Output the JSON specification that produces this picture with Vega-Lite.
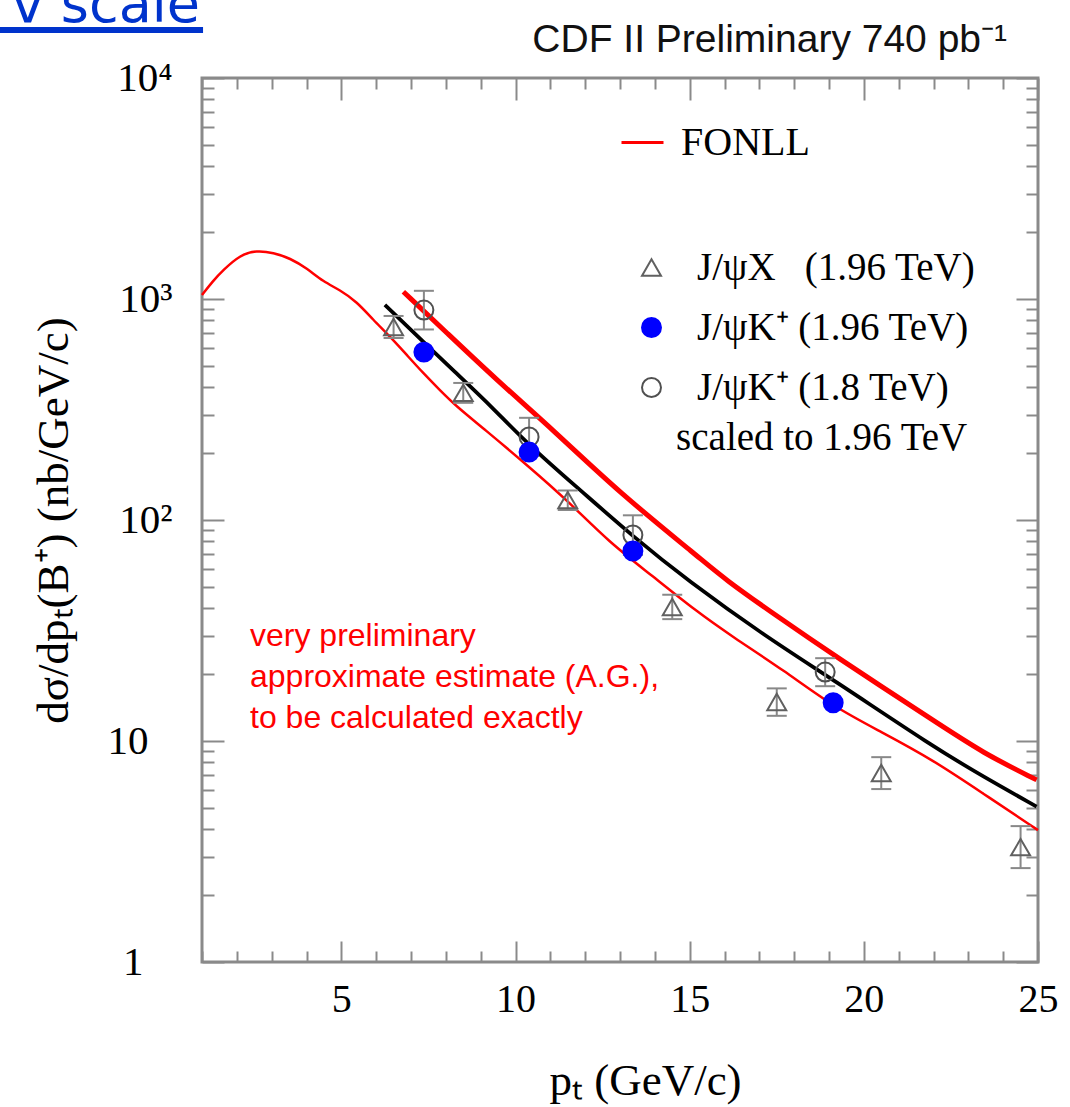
{
  "$schema": "https://vega.github.io/schema/vega-lite/v6.json",
  "width": 836,
  "height": 884,
  "autosize": {"type": "none"},
  "padding": {"left": 202, "top": 78, "right": 32, "bottom": 145},
  "background": "white",
  "config": {"view": {"stroke": "#8a8a8a", "strokeWidth": 3}},
  "datasets": {
    "curves": [
      {"model": "FONLL", "curve": "lower", "pt": 1.0, "xs": 1042},
      {"model": "FONLL", "curve": "lower", "pt": 1.3, "xs": 1200},
      {"model": "FONLL", "curve": "lower", "pt": 1.61, "xs": 1352},
      {"model": "FONLL", "curve": "lower", "pt": 2.09, "xs": 1581},
      {"model": "FONLL", "curve": "lower", "pt": 2.57, "xs": 1660},
      {"model": "FONLL", "curve": "lower", "pt": 3.05, "xs": 1620},
      {"model": "FONLL", "curve": "lower", "pt": 3.53, "xs": 1529},
      {"model": "FONLL", "curve": "lower", "pt": 4.01, "xs": 1377},
      {"model": "FONLL", "curve": "lower", "pt": 4.48, "xs": 1198},
      {"model": "FONLL", "curve": "lower", "pt": 4.96, "xs": 1099},
      {"model": "FONLL", "curve": "lower", "pt": 5.44, "xs": 973},
      {"model": "FONLL", "curve": "lower", "pt": 5.92, "xs": 803},
      {"model": "FONLL", "curve": "lower", "pt": 6.4, "xs": 676},
      {"model": "FONLL", "curve": "lower", "pt": 6.88, "xs": 558},
      {"model": "FONLL", "curve": "lower", "pt": 7.35, "xs": 462},
      {"model": "FONLL", "curve": "lower", "pt": 7.83, "xs": 387},
      {"model": "FONLL", "curve": "lower", "pt": 8.31, "xs": 326},
      {"model": "FONLL", "curve": "lower", "pt": 9.08, "xs": 260},
      {"model": "FONLL", "curve": "lower", "pt": 10.39, "xs": 174},
      {"model": "FONLL", "curve": "lower", "pt": 11.48, "xs": 123},
      {"model": "FONLL", "curve": "lower", "pt": 12.7, "xs": 79},
      {"model": "FONLL", "curve": "lower", "pt": 13.86, "xs": 57},
      {"model": "FONLL", "curve": "lower", "pt": 15.2, "xs": 38.5},
      {"model": "FONLL", "curve": "lower", "pt": 16.25, "xs": 29.5},
      {"model": "FONLL", "curve": "lower", "pt": 17.7, "xs": 20.9},
      {"model": "FONLL", "curve": "lower", "pt": 19.12, "xs": 14.3},
      {"model": "FONLL", "curve": "lower", "pt": 20.5, "xs": 11.0},
      {"model": "FONLL", "curve": "lower", "pt": 21.99, "xs": 8.2},
      {"model": "FONLL", "curve": "lower", "pt": 23.4, "xs": 5.82},
      {"model": "FONLL", "curve": "lower", "pt": 25.0, "xs": 3.95},
      {"model": "FONLL", "curve": "upper", "pt": 6.78, "xs": 1079},
      {"model": "FONLL", "curve": "upper", "pt": 8.0, "xs": 710},
      {"model": "FONLL", "curve": "upper", "pt": 9.46, "xs": 430},
      {"model": "FONLL", "curve": "upper", "pt": 11.09, "xs": 255},
      {"model": "FONLL", "curve": "upper", "pt": 13.0, "xs": 132},
      {"model": "FONLL", "curve": "upper", "pt": 15.3, "xs": 67.2},
      {"model": "FONLL", "curve": "upper", "pt": 15.97, "xs": 54.5},
      {"model": "FONLL", "curve": "upper", "pt": 17.55, "xs": 36.3},
      {"model": "FONLL", "curve": "upper", "pt": 19.13, "xs": 24.5},
      {"model": "FONLL", "curve": "upper", "pt": 21.99, "xs": 12.4},
      {"model": "FONLL", "curve": "upper", "pt": 23.43, "xs": 8.8},
      {"model": "FONLL", "curve": "upper", "pt": 24.96, "xs": 6.67},
      {"model": "estimate", "curve": "central", "pt": 6.25, "xs": 940},
      {"model": "estimate", "curve": "central", "pt": 8.5, "xs": 430},
      {"model": "estimate", "curve": "central", "pt": 9.27, "xs": 331},
      {"model": "estimate", "curve": "central", "pt": 10.42, "xs": 215},
      {"model": "estimate", "curve": "central", "pt": 11.85, "xs": 137},
      {"model": "estimate", "curve": "central", "pt": 13.38, "xs": 84},
      {"model": "estimate", "curve": "central", "pt": 14.92, "xs": 53.6},
      {"model": "estimate", "curve": "central", "pt": 17.21, "xs": 29.5},
      {"model": "estimate", "curve": "central", "pt": 19.13, "xs": 18.9},
      {"model": "estimate", "curve": "central", "pt": 21.99, "xs": 9.42},
      {"model": "estimate", "curve": "central", "pt": 23.43, "xs": 6.9},
      {"model": "estimate", "curve": "central", "pt": 24.96, "xs": 5.05}
    ],
    "points": [
      {"series": "J/ψX\u00a0\u00a0\u00a0(1.96 TeV)", "pt": 6.5, "xs": 747, "lo": 666, "hi": 838},
      {"series": "J/ψX\u00a0\u00a0\u00a0(1.96 TeV)", "pt": 8.5, "xs": 376, "lo": 339, "hi": 417},
      {"series": "J/ψX\u00a0\u00a0\u00a0(1.96 TeV)", "pt": 11.5, "xs": 123, "lo": 111, "hi": 136},
      {"series": "J/ψX\u00a0\u00a0\u00a0(1.96 TeV)", "pt": 14.5, "xs": 40.4, "lo": 35.6, "hi": 45.9},
      {"series": "J/ψX\u00a0\u00a0\u00a0(1.96 TeV)", "pt": 17.5, "xs": 15.0, "lo": 13.0, "hi": 17.3},
      {"series": "J/ψX\u00a0\u00a0\u00a0(1.96 TeV)", "pt": 20.5, "xs": 7.16, "lo": 6.06, "hi": 8.45},
      {"series": "J/ψX\u00a0\u00a0\u00a0(1.96 TeV)", "pt": 24.5, "xs": 3.31, "lo": 2.66, "hi": 4.12},
      {"series": "J/ψK⁺ (1.8 TeV)", "pt": 7.37, "xs": 891, "lo": 728, "hi": 1089},
      {"series": "J/ψK⁺ (1.8 TeV)", "pt": 10.39, "xs": 237.6, "lo": 195, "hi": 290},
      {"series": "J/ψK⁺ (1.8 TeV)", "pt": 13.37, "xs": 85.5, "lo": 69.5, "hi": 105},
      {"series": "J/ψK⁺ (1.8 TeV)", "pt": 18.89, "xs": 20.5, "lo": 17.7, "hi": 23.7},
      {"series": "J/ψK⁺ (1.96 TeV)", "pt": 7.37, "xs": 575},
      {"series": "J/ψK⁺ (1.96 TeV)", "pt": 10.39, "xs": 203},
      {"series": "J/ψK⁺ (1.96 TeV)", "pt": 13.37, "xs": 72.4},
      {"series": "J/ψK⁺ (1.96 TeV)", "pt": 19.12, "xs": 14.9}
    ]
  },
  "layer": [
    {
      "data": {"name": "curves"},
      "mark": {"type": "line", "interpolate": "basis"},
      "encoding": {
        "x": {"field": "pt", "type": "quantitative", "scale": {"domain": [1, 25], "nice": false, "zero": false},
          "axis": {"orient": "bottom", "values": [1,2,3,4,5,6,7,8,9,10,11,12,13,14,15,16,17,18,19,20,21,22,23,24,25],
            "labelExpr": "datum.value % 5 == 0 ? datum.label : ''",
            "tickSize": {"condition": {"test": "datum.value % 5 == 0", "value": -21}, "value": -11},
            "tickColor": "#8a8a8a", "tickWidth": 2, "domain": false, "grid": false,
            "labelFont": "Liberation Serif", "labelFontSize": 40, "labelColor": "#000000", "labelPadding": 38, "labelBaseline": "top",
            "labelFlush": false, "labelOverlap": false,
            "title": "pₜ (GeV/c)", "titleFont": "Liberation Serif", "titleFontSize": 45, "titleFontWeight": "normal", "titleColor": "#000000",
            "titleX": 443, "titleY": 132, "titleBaseline": "alphabetic", "titleAlign": "center"}},
        "y": {"field": "xs", "type": "quantitative", "scale": {"type": "log", "domain": [1, 10000], "nice": false},
          "axis": {"orient": "left", "values": [1,2,3,4,5,6,7,8,9,10,20,30,40,50,60,70,80,90,100,200,300,400,500,600,700,800,900,1000,2000,3000,4000,5000,6000,7000,8000,9000,10000],
            "labelExpr": "datum.value == 10000 ? '10⁴' : datum.value == 1000 ? '10³' : datum.value == 100 ? '10²' : datum.value == 10 ? '10' : datum.value == 1 ? '1' : ''",
            "tickSize": {"condition": {"test": "datum.value == 1 || datum.value == 10 || datum.value == 100 || datum.value == 1000 || datum.value == 10000", "value": -22}, "value": -12},
            "tickColor": "#8a8a8a", "tickWidth": 2, "domain": false, "grid": false,
            "labelFont": "Liberation Serif", "labelFontSize": 41, "labelColor": "#000000", "labelAlign": "right", "labelBaseline": "middle",
            "labelPadding": {"condition": [{"test": "datum.value == 1", "value": 81}, {"test": "datum.value >= 100", "value": 52}], "value": 76},
            "labelFlush": false, "labelOverlap": false,
            "title": "dσ/dpₜ(B⁺) (nb/GeV/c)", "titleFont": "Liberation Serif", "titleFontSize": 45, "titleFontWeight": "normal", "titleColor": "#000000",
            "titleX": -135, "titleY": 442, "titleAngle": 270, "titleBaseline": "alphabetic", "titleAlign": "center"}},
        "color": {"field": "model", "type": "nominal", "scale": {"domain": ["FONLL", "estimate"], "range": ["#ff0000", "#000000"]},
          "legend": {"values": ["FONLL"], "orient": "none", "legendX": 418, "legendY": 42, "title": null, "symbolType": "stroke",
            "symbolSize": 1764, "symbolStrokeWidth": 3, "labelFont": "Liberation Serif", "labelFontSize": 40, "labelOffset": 16, "labelColor": "#000000", "labelLimit": 0}},
        "detail": {"field": "curve"},
        "strokeWidth": {"field": "curve", "type": "nominal", "scale": {"domain": ["upper", "central", "lower"], "range": [5, 2.5, 3]}, "legend": null}
      }
    },
    {
      "data": {"name": "points"},
      "transform": [{"filter": "isValid(datum.lo)"}],
      "mark": {"type": "rule", "color": "#888888", "strokeWidth": 2},
      "encoding": {
        "x": {"field": "pt", "type": "quantitative",
          "axis": {"orient": "top", "values": [1,2,3,4,5,6,7,8,9,10,11,12,13,14,15,16,17,18,19,20,21,22,23,24,25], "labels": false,
            "tickSize": {"condition": {"test": "datum.value % 5 == 0", "value": -22}, "value": -11},
            "tickColor": "#8a8a8a", "tickWidth": 2, "domain": false, "grid": false, "title": null}},
        "y": {"field": "lo", "type": "quantitative",
          "axis": {"orient": "right", "values": [1,2,3,4,5,6,7,8,9,10,20,30,40,50,60,70,80,90,100,200,300,400,500,600,700,800,900,1000,2000,3000,4000,5000,6000,7000,8000,9000,10000], "labels": false,
            "tickSize": {"condition": {"test": "datum.value == 1 || datum.value == 10 || datum.value == 100 || datum.value == 1000 || datum.value == 10000", "value": -22}, "value": -12},
            "tickColor": "#8a8a8a", "tickWidth": 2, "domain": false, "grid": false, "title": null}},
        "y2": {"field": "hi"}
      }
    },
    {
      "data": {"name": "points"},
      "transform": [{"filter": "isValid(datum.lo)"}],
      "mark": {"type": "tick", "orient": "horizontal", "color": "#888888", "size": 20, "thickness": 2, "opacity": 1},
      "encoding": {
        "x": {"field": "pt", "type": "quantitative", "axis": null},
        "y": {"field": "lo", "type": "quantitative", "axis": null}
      }
    },
    {
      "data": {"name": "points"},
      "transform": [{"filter": "isValid(datum.hi)"}],
      "mark": {"type": "tick", "orient": "horizontal", "color": "#888888", "size": 20, "thickness": 2, "opacity": 1},
      "encoding": {
        "x": {"field": "pt", "type": "quantitative", "axis": null},
        "y": {"field": "hi", "type": "quantitative", "axis": null}
      }
    },
    {
      "data": {"name": "points"},
      "mark": {"type": "point", "size": 360, "strokeWidth": 2, "opacity": 1},
      "encoding": {
        "x": {"field": "pt", "type": "quantitative", "axis": null},
        "y": {"field": "xs", "type": "quantitative", "axis": null},
        "shape": {"field": "series", "type": "nominal",
          "scale": {"domain": ["J/ψX\u00a0\u00a0\u00a0(1.96 TeV)", "J/ψK⁺ (1.96 TeV)", "J/ψK⁺ (1.8 TeV)"], "range": ["triangle-up", "circle", "circle"]},
          "legend": {"orient": "none", "legendX": 430, "legendY": 170, "title": null, "labelFont": "Liberation Serif", "labelFontSize": 39, "labelOffset": 26,
            "rowPadding": 20, "symbolSize": 360, "symbolStrokeWidth": 2, "labelColor": "#000000", "labelLimit": 0}},
        "fill": {"field": "series", "type": "nominal",
          "scale": {"domain": ["J/ψX\u00a0\u00a0\u00a0(1.96 TeV)", "J/ψK⁺ (1.96 TeV)", "J/ψK⁺ (1.8 TeV)"], "range": ["transparent", "#0000ff", "transparent"]},
          "legend": {"orient": "none", "legendX": 430, "legendY": 170, "title": null, "labelFont": "Liberation Serif", "labelFontSize": 39, "labelOffset": 26,
            "rowPadding": 20, "symbolSize": 360, "symbolStrokeWidth": 2, "labelColor": "#000000", "labelLimit": 0}},
        "stroke": {"field": "series", "type": "nominal",
          "scale": {"domain": ["J/ψX\u00a0\u00a0\u00a0(1.96 TeV)", "J/ψK⁺ (1.96 TeV)", "J/ψK⁺ (1.8 TeV)"], "range": ["#606060", "#0000ff", "#505050"]},
          "legend": {"orient": "none", "legendX": 430, "legendY": 170, "title": null, "labelFont": "Liberation Serif", "labelFontSize": 39, "labelOffset": 26,
            "rowPadding": 20, "symbolSize": 360, "symbolStrokeWidth": 2, "labelColor": "#000000", "labelLimit": 0}}
      }
    },
    {
      "data": {"values": [{}]},
      "mark": {"type": "text", "align": "left", "baseline": "alphabetic", "font": "Liberation Serif", "fontSize": 39, "color": "#000000", "text": "scaled to 1.96 TeV"},
      "encoding": {
        "x": {"datum": 14.61, "type": "quantitative", "axis": null},
        "y": {"datum": 207.6, "type": "quantitative", "axis": null}
      }
    },
    {
      "data": {"values": [{}]},
      "mark": {"type": "text", "align": "left", "baseline": "alphabetic", "font": "Liberation Sans", "fontSize": 32, "color": "#ff0000", "lineHeight": 41,
        "text": ["very preliminary", "approximate estimate (A.G.),", "to be calculated exactly"]},
      "encoding": {
        "x": {"datum": 2.378, "type": "quantitative", "axis": null},
        "y": {"datum": 26.9, "type": "quantitative", "axis": null}
      }
    },
    {
      "data": {"values": [{}]},
      "mark": {"type": "text", "align": "right", "baseline": "alphabetic", "font": "Liberation Sans", "fontSize": 39, "color": "#111111", "text": "CDF II Preliminary 740 pb⁻¹"},
      "encoding": {
        "x": {"datum": 24.11, "type": "quantitative", "axis": null},
        "y": {"datum": 13120, "type": "quantitative", "axis": null}
      }
    },
    {
      "data": {"values": [{}]},
      "mark": {"type": "text", "align": "right", "baseline": "alphabetic", "font": "DejaVu Sans", "fontSize": 54, "color": "#0033cc", "text": "v scale"},
      "encoding": {
        "x": {"datum": 0.943, "type": "quantitative", "axis": null},
        "y": {"datum": 17920, "type": "quantitative", "axis": null}
      }
    },
    {
      "data": {"values": [{}]},
      "mark": {"type": "rule", "color": "#0033cc", "strokeWidth": 6},
      "encoding": {
        "x": {"datum": -4.8, "type": "quantitative", "axis": null},
        "x2": {"datum": 1.03},
        "y": {"datum": 16490, "type": "quantitative", "axis": null}
      }
    }
  ],
  "resolve": {"axis": {"x": "independent", "y": "independent"}}
}
